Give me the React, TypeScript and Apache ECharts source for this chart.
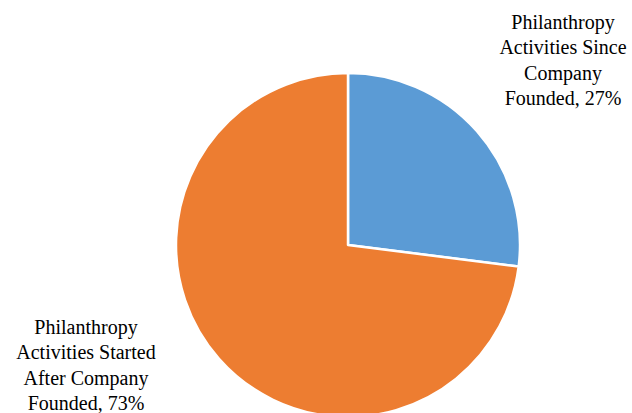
import React, { useEffect, useRef } from "react";
import * as echarts from "echarts";

const categories = [
  "Philanthropy\nActivities Since\nCompany\nFounded",
  "Philanthropy\nActivities Started\nAfter Company\nFounded",
];
const values = [27, 73];
const colors = ["#5B9BD5", "#ED7D31"];
const labelPositions = [
  [563, 60],
  [86, 365],
];
const LINE_HEIGHT = 25.3;

export default function App() {
  const ref = useRef<HTMLDivElement>(null);
  useEffect(() => {
    const chart = echarts.init(ref.current!, null, { renderer: "svg" });
    const total = values.reduce((a, b) => a + b, 0);
    const graphics: any[] = [];
    categories.forEach((c, i) => {
      const lines = `${c}, ${Math.round((values[i] / total) * 100)}%`.split("\n");
      lines.forEach((line, j) => {
        graphics.push({
          type: "text",
          x: labelPositions[i][0],
          y: labelPositions[i][1] + (j - (lines.length - 1) / 2) * LINE_HEIGHT,
          style: {
            text: line,
            fontFamily: "Times New Roman",
            fontSize: 20,
            fill: "#000",
            align: "center",
            verticalAlign: "middle",
          },
        });
      });
    });
    chart.setOption({
      animation: false,
      backgroundColor: "#ffffff",
      graphic: graphics,
      series: [
        {
          type: "pie",
          center: [348, 245],
          radius: 172,
          startAngle: 90,
          clockwise: true,
          data: categories.map((c, i) => ({
            name: c,
            value: values[i],
            itemStyle: { color: colors[i] },
          })),
          itemStyle: { borderColor: "#ffffff", borderWidth: 2.5 },
          label: { show: false },
          labelLine: { show: false },
        },
      ],
    });
    return () => chart.dispose();
  }, []);
  return (
    <div
      ref={ref}
      style={{ position: "fixed", left: 0, top: 0, width: 632, height: 413 }}
    />
  );
}
